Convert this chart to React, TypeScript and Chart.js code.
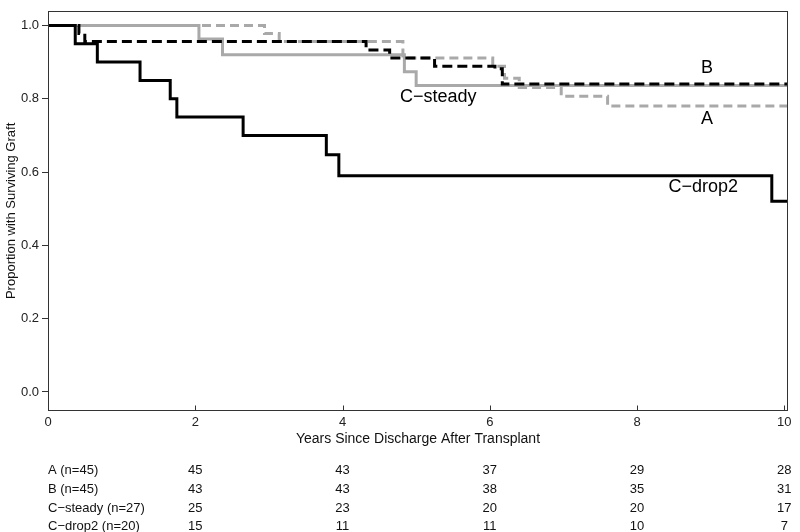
import { useEffect, useRef } from "react";
import { Chart, registerables } from "chart.js";

Chart.register(...registerables);

// ---- Data ----
const aTimes = [0, 2.94, 3.14, 4.82, 6.04, 6.2, 6.4, 6.97, 7.6, 10.05];
const aSurv = [1, 0.978, 0.956, 0.911, 0.889, 0.856, 0.831, 0.807, 0.78, 0.78];

const bTimes = [0, 0.42, 0.5, 4.32, 4.64, 5.25, 6.07, 6.17, 10.05];
const bSurv = [1, 0.978, 0.956, 0.933, 0.911, 0.889, 0.882, 0.84, 0.84];

const cSteadyTimes = [0, 2.05, 2.37, 4.84, 5.0, 10.05];
const cSteadySurv = [1, 0.963, 0.92, 0.874, 0.836, 0.836];

const cDropTimes = [0, 0.37, 0.67, 1.25, 1.66, 1.75, 2.65, 3.78, 3.95, 9.83, 10.05];
const cDropSurv = [1, 0.95, 0.9, 0.85, 0.8, 0.75, 0.7, 0.647, 0.59, 0.52, 0.52];

const xTickValues = [0, 2, 4, 6, 8, 10];
const yTickValues = [0, 0.2, 0.4, 0.6, 0.8, 1.0];

const riskTimes = [2, 4, 6, 8, 10];
const riskRowLabels = ["A (n=45)", "B (n=45)", "C\u2212steady (n=27)", "C\u2212drop2 (n=20)"];
const riskA = [45, 43, 37, 29, 28];
const riskB = [43, 43, 38, 35, 31];
const riskCSteady = [25, 23, 20, 20, 17];
const riskCDrop = [15, 11, 11, 10, 7];

const curveLabelText = ["B", "A", "C\u2212steady", "C\u2212drop2"];
const curveLabelX = [8.95, 8.95, 5.3, 8.9];
const curveLabelY = [0.884, 0.744, 0.805, 0.558];

const FONT = "'Liberation Sans', Arial, sans-serif";

function pts(t: number[], s: number[]) {
  return t.map((x, i) => ({ x, y: s[i] }));
}

const overlayPlugin = {
  id: "kmOverlay",
  afterDraw(chart: any) {
    const { ctx, chartArea } = chart;
    const xs = chart.scales.x;
    const ys = chart.scales.y;
    ctx.save();
    // box
    ctx.strokeStyle = "#333";
    ctx.lineWidth = 1;
    ctx.strokeRect(
      Math.round(chartArea.left) + 0.5,
      Math.round(chartArea.top) + 0.5,
      Math.round(chartArea.right - chartArea.left) - 1,
      Math.round(chartArea.bottom - chartArea.top) - 1
    );
    // inward x ticks
    const by = Math.round(chartArea.bottom) - 0.5;
    xTickValues.forEach((v) => {
      const px = Math.round(xs.getPixelForValue(v)) + 0.5;
      ctx.beginPath();
      ctx.moveTo(px, by);
      ctx.lineTo(px, by - 5);
      ctx.stroke();
    });
    // curve labels
    ctx.fillStyle = "#000";
    ctx.font = `18px ${FONT}`;
    ctx.textAlign = "center";
    ctx.textBaseline = "middle";
    curveLabelText.forEach((txt, i) => {
      ctx.fillText(txt, xs.getPixelForValue(curveLabelX[i]), ys.getPixelForValue(curveLabelY[i]));
    });
    // x title
    ctx.fillStyle = "#111";
    ctx.font = `14px ${FONT}`;
    ctx.fillText(
      "Years Since Discharge After Transplant",
      (chartArea.left + chartArea.right) / 2,
      439
    );
    // risk table
    ctx.font = `13px ${FONT}`;
    const rows = [riskA, riskB, riskCSteady, riskCDrop];
    const rowY = [470, 489, 508, 526];
    rows.forEach((row, r) => {
      ctx.textAlign = "left";
      ctx.fillText(riskRowLabels[r], chartArea.left, rowY[r]);
      ctx.textAlign = "center";
      row.forEach((n, c) => {
        ctx.fillText(String(n), xs.getPixelForValue(riskTimes[c]), rowY[r]);
      });
    });
    ctx.restore();
  },
};

export default function App() {
  const ref = useRef<HTMLCanvasElement | null>(null);
  useEffect(() => {
    document.body.style.margin = "0";
    const canvas = ref.current;
    if (!canvas) return;
    const gray = "#a9a9a9";
    const chart = new Chart(canvas, {
      type: "line",
      data: {
        datasets: [
          {
            label: "C-drop2",
            data: pts(cDropTimes, cDropSurv),
            borderColor: "#000",
            borderWidth: 3,
            stepped: true,
            pointRadius: 0,
            fill: false,
          },
          {
            label: "B",
            data: pts(bTimes, bSurv),
            borderColor: "#000",
            borderWidth: 3,
            borderDash: [10, 5],
            stepped: true,
            pointRadius: 0,
            fill: false,
          },
          {
            label: "C-steady",
            data: pts(cSteadyTimes, cSteadySurv),
            borderColor: gray,
            borderWidth: 3,
            stepped: true,
            pointRadius: 0,
            fill: false,
          },
          {
            label: "A",
            data: pts(aTimes, aSurv),
            borderColor: gray,
            borderWidth: 3,
            borderDash: [9, 5],
            stepped: true,
            pointRadius: 0,
            fill: false,
          },
        ],
      },
      options: {
        responsive: false,
        animation: false,
        devicePixelRatio: 1,
        layout: { padding: { top: 5, right: 12, left: 0, bottom: 0 } },
        plugins: { legend: { display: false }, tooltip: { enabled: false } },
        scales: {
          x: {
            type: "linear",
            min: 0,
            max: 10.05,
            afterFit: (s: any) => {
              s.height = 121;
            },
            afterBuildTicks: (s: any) => {
              s.ticks = xTickValues.map((v) => ({ value: v }));
            },
            ticks: {
              padding: 4,
              color: "#222",
              font: { family: FONT, size: 13 },
              maxRotation: 0,
              autoSkip: false,
              callback: (v: any) => String(v),
            },
            grid: { display: false, drawTicks: false },
            border: { display: false },
          },
          y: {
            type: "linear",
            min: -0.052,
            max: 1.04,
            afterFit: (s: any) => {
              s.width = 48;
            },
            afterBuildTicks: (s: any) => {
              s.ticks = yTickValues.map((v) => ({ value: v }));
            },
            ticks: {
              padding: 3,
              color: "#222",
              font: { family: FONT, size: 13 },
              callback: (v: any) => Number(v).toFixed(1),
            },
            grid: { drawOnChartArea: false, tickLength: 6, color: "#333", lineWidth: 1 },
            border: { display: false },
            title: {
              display: true,
              text: "Proportion with Surviving Graft",
              color: "#111",
              font: { family: FONT, size: 13 },
              padding: { top: 4, bottom: 0 },
            },
          },
        },
      },
      plugins: [overlayPlugin],
    });
    return () => chart.destroy();
  }, []);
  return (
    <div style={{ position: "absolute", left: 0, top: 0, width: 800, height: 532 }}>
      <canvas ref={ref} width={800} height={532} />
    </div>
  );
}
